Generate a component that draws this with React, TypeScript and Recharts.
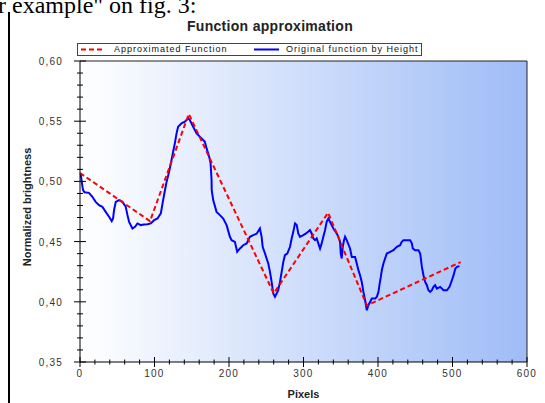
import React from 'react';
import { LineChart, Line, XAxis, YAxis, CartesianGrid } from 'recharts';

// axis ticks
const xMajor = [0, 100, 200, 300, 400, 500, 600];
const xLabels = ['0', '100', '200', '300', '400', '500', '600'];
const yMajor = [0.35, 0.4, 0.45, 0.5, 0.55, 0.6];
const yLabels = ['0,35', '0,40', '0,45', '0,50', '0,55', '0,60'];

// approximated function (red dashed)
const approxX = [0, 94, 146, 260, 333, 385, 511];
const approxY = [0.507, 0.467, 0.556, 0.407, 0.474, 0.397, 0.433];

// original function by height (blue)
const originalX = [
  1, 2.5, 4, 6, 12, 16.6, 21, 25.6, 30, 34.5, 39, 42.6, 44.4, 45.7, 48, 52.4, 57, 61.4, 63.7, 65.9,
  70.4, 73.9, 77.1, 81.6, 86, 90.6, 95, 99.5, 104, 108.5, 110.8, 113.5, 116, 120, 122.8, 125, 127.3,
  129.6, 131.7, 136.3, 140.7, 145.2, 147.4, 151.9, 156.5, 163.2, 167.6, 169.9, 173.4, 175.3, 176.6,
  176.8, 178.8, 183.3, 187.8, 192.2, 196.8, 201.2, 203.5, 207.9, 211, 214.7, 219.1, 223.7, 228.1,
  232.5, 237.1, 241.5, 243.8, 245.2, 248.3, 252.7, 255, 257.2, 259.4, 261.7, 263.9, 266.1, 268.4,
  270.7, 272.9, 275.1, 278.2, 281.9, 284.1, 286.3, 288.6, 290.9, 293, 295.3, 299.7, 303.4, 308.7,
  311, 313.2, 315.5, 317.7, 319.9, 322.2, 324.4, 326.6, 328.9, 331.1, 333.4, 335.6, 340.1, 344.6,
  346.8, 349.1, 350, 351.3, 352.7, 354.4, 355.8, 358, 362.5, 364.8, 369.2, 371.5, 373.7, 375.9,
  378.2, 380.4, 382.7, 385, 387.1, 389.4, 391.7, 396.2, 398.4, 400.6, 401.9, 403.8, 405.1, 407.3,
  409.5, 411.8, 416.3, 420.7, 425.3, 429.7, 431.9, 434.2, 443.1, 445.4, 446.7, 449.8, 454.3, 456.6,
  457.5, 458.9, 461, 463.3, 465.6, 467.7, 470, 472.3, 474.5, 476.7, 479, 483.5, 487.9, 492.5, 496,
  499.2, 501.5, 503.8, 506, 509.4,
];
const originalY = [
  0.506, 0.499, 0.493, 0.491, 0.4905, 0.4872, 0.483, 0.4803, 0.4789, 0.4747, 0.4706, 0.467, 0.4692,
  0.4761, 0.483, 0.4845, 0.483, 0.4789, 0.472, 0.4664, 0.4609, 0.4623, 0.4651, 0.4637, 0.4642,
  0.4645, 0.4651, 0.4678, 0.4692, 0.4734, 0.4817, 0.491, 0.499, 0.509, 0.5177, 0.5246, 0.5316,
  0.5399, 0.5454, 0.5482, 0.5496, 0.5524, 0.551, 0.5454, 0.5399, 0.5357, 0.5329, 0.5274, 0.5205,
  0.515, 0.5011, 0.4928, 0.4845, 0.4747, 0.472, 0.4692, 0.4637, 0.454, 0.4512, 0.4498, 0.4415,
  0.4443, 0.447, 0.4485, 0.454, 0.4554, 0.4565, 0.4609, 0.454, 0.4457, 0.4401, 0.4318, 0.4249,
  0.4165, 0.4069, 0.4041, 0.4069, 0.4096, 0.4165, 0.4249, 0.4332, 0.4387, 0.4401, 0.4457, 0.4526,
  0.4581, 0.4651, 0.4637, 0.4568, 0.454, 0.4554, 0.4568, 0.4595, 0.4568, 0.4526, 0.4512, 0.4526,
  0.4485, 0.4443, 0.4485, 0.454, 0.4595, 0.4664, 0.4692, 0.4664, 0.4609, 0.4568, 0.454, 0.4498,
  0.4401, 0.436, 0.4457, 0.4512, 0.454, 0.4512, 0.4443, 0.4373, 0.4373, 0.4318, 0.4263, 0.4221,
  0.4165, 0.4082, 0.4013, 0.393, 0.3972, 0.3999, 0.4027, 0.4027, 0.4041, 0.4082, 0.4138, 0.4207,
  0.4263, 0.4318, 0.436, 0.4401, 0.4415, 0.4429, 0.4457, 0.447, 0.4498, 0.4512, 0.4512, 0.4485,
  0.4443, 0.4429, 0.4429, 0.4401, 0.436, 0.429, 0.4221, 0.4165, 0.4138, 0.4096, 0.4082, 0.4096,
  0.4124, 0.4138, 0.411, 0.4124, 0.4096, 0.4096, 0.4124, 0.4179, 0.4221, 0.4277, 0.429, 0.4296,
];

const approxData = approxX.map((x, i) => ({ x, y: approxY[i] }));
const originalData = originalX.map((x, i) => ({ x, y: originalY[i] }));

// 4 minor ticks between each pair of majors
const subdivide = (majors: number[], n: number) => {
  const out: number[] = [];
  for (let i = 0; i < majors.length - 1; i++) {
    const step = (majors[i + 1] - majors[i]) / n;
    for (let k = 0; k < n; k++) out.push(+(majors[i] + k * step).toFixed(4));
  }
  out.push(majors[majors.length - 1]);
  return out;
};
const xTicks = subdivide(xMajor, 5);
const yTicks = subdivide(yMajor, 5);

const majorIndex = (list: number[], v: number) => list.findIndex(m => Math.abs(m - v) < 1e-6);

const FONT = '"Liberation Sans", Arial, sans-serif';
const tickText = { fontFamily: FONT, fontSize: 10, fill: '#333', letterSpacing: 1.2 };

// axes are 1px thick, so the tick props sit right on the axis line
const BottomTick = (props: any) => {
  const { x, y, payload } = props;
  const i = majorIndex(xMajor, payload.value);
  const h = i >= 0 ? 5 : 2.5;
  return (
    <g>
      <line x1={x} x2={x} y1={y - h} y2={y + h} stroke="#000" />
      {i >= 0 && (
        <text x={x} y={y + 15} textAnchor="middle" style={tickText}>{xLabels[i]}</text>
      )}
    </g>
  );
};

const LeftTick = (props: any) => {
  const { x, y, payload } = props;
  const i = majorIndex(yMajor, payload.value);
  const h = i >= 0 ? 6 : 3;
  return (
    <g>
      <line x1={x - h} x2={x + h} y1={y} y2={y} stroke="#000" />
      {i >= 0 && (
        <text x={x - 17} y={y + 4} textAnchor="end" style={tickText}>{yLabels[i]}</text>
      )}
    </g>
  );
};

const TopTick = (props: any) => {
  const { x, y, payload } = props;
  const h = majorIndex(xMajor, payload.value) >= 0 ? 5 : 3;
  return <line x1={x} x2={x} y1={y} y2={y + h} stroke="#222" />;
};

const RightTick = (props: any) => {
  const { x, y, payload } = props;
  const h = majorIndex(yMajor, payload.value) >= 0 ? 5 : 3;
  return <line x1={x - h} x2={x} y1={y} y2={y} stroke="#222" />;
};

const legendText: React.CSSProperties = {
  position: 'absolute', top: 0, fontFamily: FONT, fontSize: 9, letterSpacing: 1, color: '#111', lineHeight: '11px',
};

const App = () => {
  return (
    <div style={{ position: 'absolute', left: 0, top: 0, width: 545, height: 403, background: '#fff', overflow: 'hidden' }}>
      {/* surrounding document */}
      <div style={{ position: 'absolute', left: -2, top: -7, fontFamily: '"Liberation Serif", serif', fontSize: 24, lineHeight: '24px', whiteSpace: 'nowrap' }}>
        r example" on fig. 3:
      </div>
      <div style={{ position: 'absolute', left: 8, top: 12, width: 2, height: 391, background: '#000' }} />

      <LineChart width={545} height={403} margin={{ top: 60, right: 17, bottom: 40, left: 79 }}>
        <defs>
          <linearGradient id="bg" x1="0" y1="0" x2="1" y2="0">
            <stop offset="0%" stopColor="#ffffff" />
            <stop offset="100%" stopColor="#9fbcf7" />
          </linearGradient>
        </defs>
        <CartesianGrid horizontal={false} vertical={false} fill="url(#bg)" />
        <XAxis
          type="number" dataKey="x" domain={[0, 600]} ticks={xTicks} interval={0} height={1}
          tickSize={0} tickMargin={0} tickLine={false} axisLine={{ stroke: '#000' }} tick={BottomTick}
          label={{ value: 'Pixels', position: 'bottom', offset: 27, style: { fontFamily: FONT, fontSize: 11, fontWeight: 'bold', fill: '#222' } }}
        />
        <XAxis
          xAxisId="top" orientation="top" type="number" dataKey="x" domain={[0, 600]} ticks={xTicks} interval={0} height={1}
          tickSize={0} tickMargin={0} tickLine={false} axisLine={{ stroke: '#222' }} tick={TopTick}
        />
        <YAxis
          type="number" domain={[0.35, 0.6]} ticks={yTicks} interval={0} width={1}
          tickSize={0} tickMargin={0} tickLine={false} axisLine={{ stroke: '#000' }} tick={LeftTick}
          label={{
            content: () => (
              <text x={27} y={207} transform="rotate(-90 27 207)" textAnchor="middle" dominantBaseline="central"
                style={{ fontFamily: FONT, fontSize: 11, fontWeight: 'bold', fill: '#222' }}>
                Normalized brightness
              </text>
            ),
          }}
        />
        <YAxis
          yAxisId="right" orientation="right" type="number" domain={[0.35, 0.6]} ticks={yTicks} interval={0} width={1}
          tickSize={0} tickMargin={0} tickLine={false} axisLine={{ stroke: '#222' }} tick={RightTick}
        />
        <Line
          data={originalData} dataKey="y" type="linear" stroke="#0000ff" strokeWidth={2} dot={false}
          isAnimationActive={false} name="Original function by Height"
        />
        <Line
          data={approxData} dataKey="y" type="linear" stroke="#ff0000" strokeWidth={2} strokeDasharray="5 3"
          dot={false} isAnimationActive={false} name="Approximated Function"
        />
      </LineChart>

      {/* title */}
      <div style={{ position: 'absolute', left: 0, width: 540, top: 18, textAlign: 'center', fontFamily: FONT, fontSize: 14, fontWeight: 'bold', letterSpacing: 0.3, color: '#222', lineHeight: '16px' }}>
        Function approximation
      </div>

      {/* legend */}
      <div style={{ position: 'absolute', left: 77, top: 43, width: 343, height: 11, border: '1px solid #444', background: '#fff' }}>
        <svg style={{ position: 'absolute', left: 0, top: 0 }} width={343} height={11}>
          <line x1={3} x2={27} y1={5.5} y2={5.5} stroke="#ff0000" strokeWidth={2} strokeDasharray="5 3" />
          <line x1={176} x2={201} y1={5.5} y2={5.5} stroke="#0000ff" strokeWidth={2} />
        </svg>
        <span style={{ ...legendText, left: 36 }}>Approximated Function</span>
        <span style={{ ...legendText, left: 208 }}>Original function by Height</span>
      </div>
    </div>
  );
};

export default App;
